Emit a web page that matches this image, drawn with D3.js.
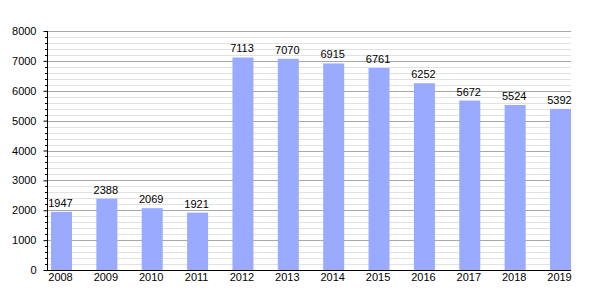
<!DOCTYPE html>
<html>
<head>
<meta charset="utf-8">
<script src="https://cdn.jsdelivr.net/npm/d3@7"></script>
<style>
  body { margin: 0; background: #fff; }
  svg text { font-family: "Liberation Sans", Arial, sans-serif; font-size: 11px; fill: #000; }
</style>
</head>
<body>
<svg id="chart" width="600" height="300"></svg>
<script>
var years = ["2008", "2009", "2010", "2011", "2012", "2013", "2014", "2015", "2016", "2017", "2018", "2019"];
var values = [1947, 2388, 2069, 1921, 7113, 7070, 6915, 6761, 6252, 5672, 5524, 5392];
var yTicks = [0, 1000, 2000, 3000, 4000, 5000, 6000, 7000, 8000];

var svg = d3.select("svg#chart");
var axisX = 47, plotRight = 571, plotTop = 31, plotBottom = 270;

var x = d3.scaleBand()
    .domain(years)
    .range([51, plotRight])
    .paddingInner(0.537)
    .paddingOuter(0);

var y = d3.scaleLinear()
    .domain([0, 8000])
    .range([plotBottom, plotTop]);

// minor gridlines every 200
var minor = d3.range(200, 8000, 200).filter(d => d % 1000 !== 0);
svg.append("g").selectAll("line")
    .data(minor)
    .enter()
    .append("line")
    .attr("x1", axisX)
    .attr("x2", plotRight)
    .attr("y1", d => Math.round(y(d)) + 0.5)
    .attr("y2", d => Math.round(y(d)) + 0.5)
    .style("stroke", "#e2e2e2");

// major gridlines
svg.append("g").selectAll("line")
    .data(yTicks.filter(d => d > 0))
    .enter()
    .append("line")
    .attr("x1", axisX)
    .attr("x2", plotRight)
    .attr("y1", d => Math.round(y(d)) + 0.5)
    .attr("y2", d => Math.round(y(d)) + 0.5)
    .style("stroke", "#a8a8a8");

// bars
svg.append("g").selectAll("rect")
    .data(values)
    .enter()
    .append("rect")
    .attr("x", (d, i) => x(years[i]))
    .attr("width", x.bandwidth())
    .attr("y", d => y(d))
    .attr("height", d => plotBottom - y(d))
    .style("fill", "#99aaff");

// value labels
svg.append("g").selectAll("text")
    .data(values)
    .enter()
    .append("text")
    .attr("x", (d, i) => x(years[i]) + x.bandwidth() / 2 - 1)
    .attr("y", d => y(d) - 5)
    .attr("text-anchor", "middle")
    .text(d => d);

// y axis
var yAxis = d3.axisLeft(y)
    .tickValues(yTicks)
    .tickSize(4)
    .tickPadding(7)
    .tickFormat(d => d);
var gy = svg.append("g")
    .attr("transform", "translate(" + (axisX + 0.5) + ",0)")
    .call(yAxis);
gy.select(".domain").remove();
gy.selectAll(".tick line").style("stroke", "#000");
gy.selectAll(".tick text").style("font-size", "11px").style("font-family", "Liberation Sans, Arial, sans-serif");

// minor ticks
svg.append("g").selectAll("line")
    .data(minor)
    .enter()
    .append("line")
    .attr("x1", axisX - 2)
    .attr("x2", axisX)
    .attr("y1", d => Math.round(y(d)) + 0.5)
    .attr("y2", d => Math.round(y(d)) + 0.5)
    .style("stroke", "#000");

svg.append("line")
    .attr("x1", axisX + 0.5).attr("x2", axisX + 0.5)
    .attr("y1", plotTop).attr("y2", plotBottom + 1)
    .style("stroke", "#000");

// x axis
var xAxis = d3.axisBottom(x).tickSize(0).tickPadding(3);
var gx = svg.append("g")
    .attr("transform", "translate(-1," + (plotBottom + 0.5) + ")")
    .call(xAxis);
gx.select(".domain").remove();
gx.selectAll(".tick text").style("font-size", "11px").style("font-family", "Liberation Sans, Arial, sans-serif");
svg.append("line")
    .attr("x1", axisX).attr("x2", plotRight)
    .attr("y1", plotBottom + 0.5).attr("y2", plotBottom + 0.5)
    .style("stroke", "#000");
</script>
</body>
</html>
